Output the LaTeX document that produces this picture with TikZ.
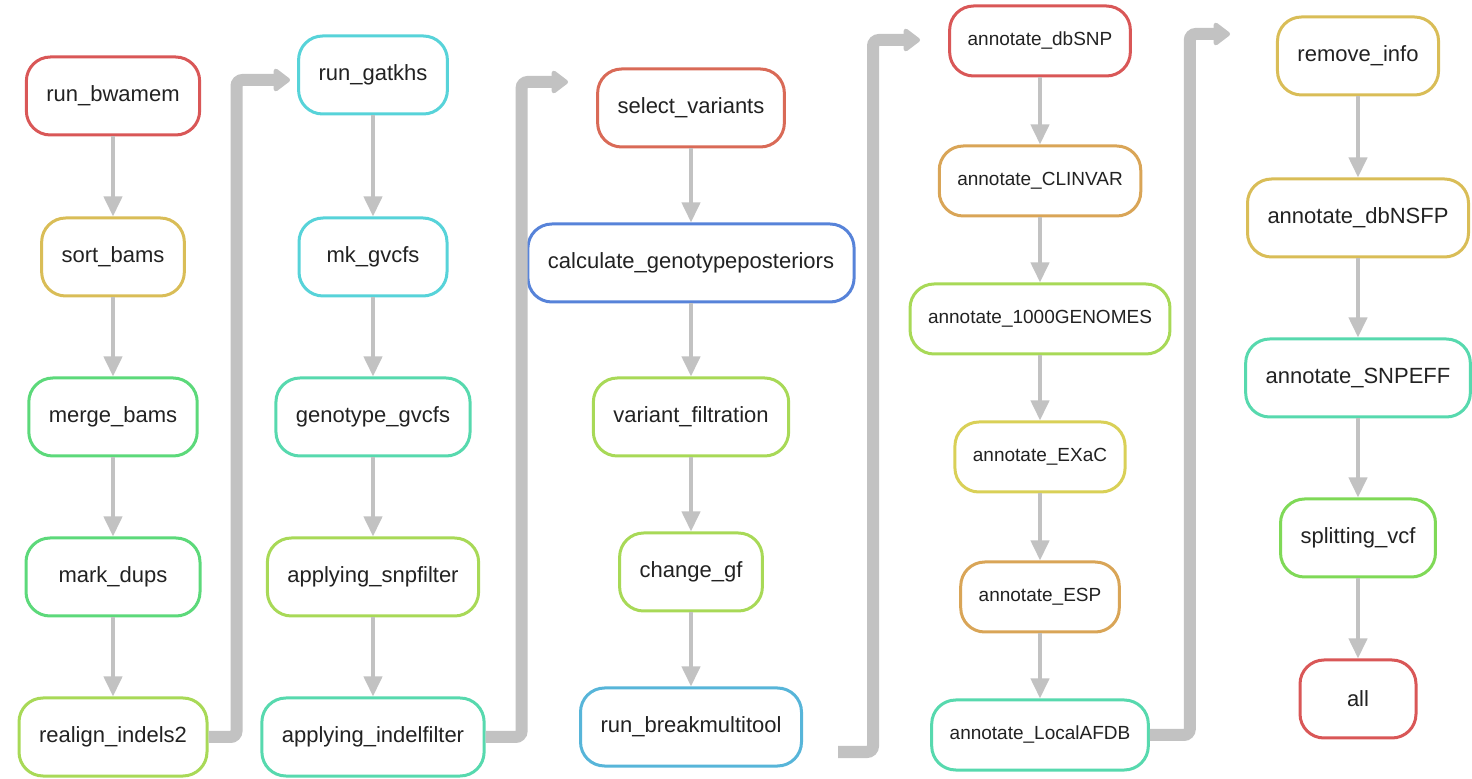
\documentclass[tikz,border=0pt]{standalone}
\usepackage{fontspec}
\setmainfont{Liberation Sans}
\usetikzlibrary{arrows.meta}
\definecolor{lgray}{HTML}{C2C2C2}
\definecolor{txt}{HTML}{222222}
\definecolor{jred}{HTML}{D95757}
\definecolor{jorange}{HTML}{D96A57}
\definecolor{jamber}{HTML}{D9A557}
\definecolor{jgold}{HTML}{D9BD57}
\definecolor{jyellow}{HTML}{D9D057}
\definecolor{jlime}{HTML}{A8D957}
\definecolor{jgreen}{HTML}{5CD97A}
\definecolor{jleaf}{HTML}{7FD957}
\definecolor{jteal}{HTML}{57D9AE}
\definecolor{jcyan}{HTML}{57D3D9}
\definecolor{jsky}{HTML}{57B5D9}
\definecolor{jblue}{HTML}{5783D9}
\tikzset{
  job/.style={draw=#1,line width=1.5pt,rounded corners=12pt,fill=white,text=txt,
    minimum height=39pt,inner xsep=10pt,font=\fontsize{11}{13}\selectfont},
  annot/.style={job=#1,minimum height=35pt,inner xsep=9pt,font=\fontsize{9.5}{11}\selectfont},
  dep/.style={-{Triangle[width=9pt,length=10pt]},line width=2pt,draw=lgray},
  hop/.style={-{Triangle[width=13pt,length=9pt,round]},line width=6pt,draw=lgray,rounded corners=3pt},
}
\begin{document}
\begin{tikzpicture}[x=0.5pt,y=-0.5pt]
\useasboundingbox (0,0) rectangle (1472,779);
% mapping
\node[job=jred]    (bwa)   at (113,96)  {run\_bwamem};
\node[job=jgold]   (sort)  at (113,257) {sort\_bams};
\node[job=jgreen]  (merge) at (113,417) {merge\_bams};
\node[job=jgreen,minimum width=87pt] (dups) at (113,577) {mark\_dups};
\node[job=jlime]   (realn) at (113,737) {realign\_indels2};
% calling
\node[job=jcyan]   (hs)    at (373,75)  {run\_gatkhs};
\node[job=jcyan,minimum width=74pt] (mkg) at (373,257) {mk\_gvcfs};
\node[job=jteal]   (geno)  at (373,417) {genotype\_gvcfs};
\node[job=jlime]   (snpf)  at (373,577) {applying\_snpfilter};
\node[job=jteal]   (indf)  at (373,737) {applying\_indelfilter};
% refinement
\node[job=jorange] (sel)   at (691,108) {select\_variants};
\node[job=jblue]   (post)  at (691,263) {calculate\_genotypeposteriors};
\node[job=jlime]   (vfilt) at (691,417) {variant\_filtration};
\node[job=jlime]   (gf)    at (691,572) {change\_gf};
\node[job=jsky]    (brk)   at (691,727) {run\_breakmultitool};
% annotation
\node[annot=jred]    (dbsnp) at (1040,41)  {annotate\_dbSNP};
\node[annot=jamber]  (clin)  at (1040,181) {annotate\_CLINVAR};
\node[annot=jlime]   (kg)    at (1040,319) {annotate\_1000GENOMES};
\node[annot=jyellow] (exac)  at (1040,457) {annotate\_EXaC};
\node[annot=jamber]  (esp)   at (1040,597) {annotate\_ESP};
\node[annot=jteal]   (afdb)  at (1040,735) {annotate\_LocalAFDB};
% finishing
\node[job=jgold]   (rmi)   at (1358,56)  {remove\_info};
\node[job=jgold]   (nsfp)  at (1358,218) {annotate\_dbNSFP};
\node[job=jteal]   (eff)   at (1358,378) {annotate\_SNPEFF};
\node[job=jleaf]   (split) at (1358,538) {splitting\_vcf};
\node[job=jred,minimum width=58pt] (all) at (1358,699) {all};

\foreach \a/\b in {bwa/sort,sort/merge,merge/dups,dups/realn,
                   hs/mkg,mkg/geno,geno/snpf,snpf/indf,
                   sel/post,post/vfilt,vfilt/gf,gf/brk,
                   dbsnp/clin,clin/kg,kg/exac,exac/esp,esp/afdb,
                   rmi/nsfp,nsfp/eff,eff/split,split/all}
  \draw[dep] (\a) -- (\b);

% column hops
\coordinate (t1) at (290,80);
\coordinate (t2) at (568,82);
\coordinate (s3) at (838,752);
\coordinate (t3) at (920,40);
\coordinate (t4) at (1230,34);
\draw[hop] (realn.east) -- ++(28,0) |- (t1);
\draw[hop] (indf.east) -- ++(36,0) |- (t2);
\draw[hop] (s3) -- ++(35,0) |- (t3);
\draw[hop] (afdb.east) -- ++(40,0) |- (t4);
\end{tikzpicture}
\end{document}
